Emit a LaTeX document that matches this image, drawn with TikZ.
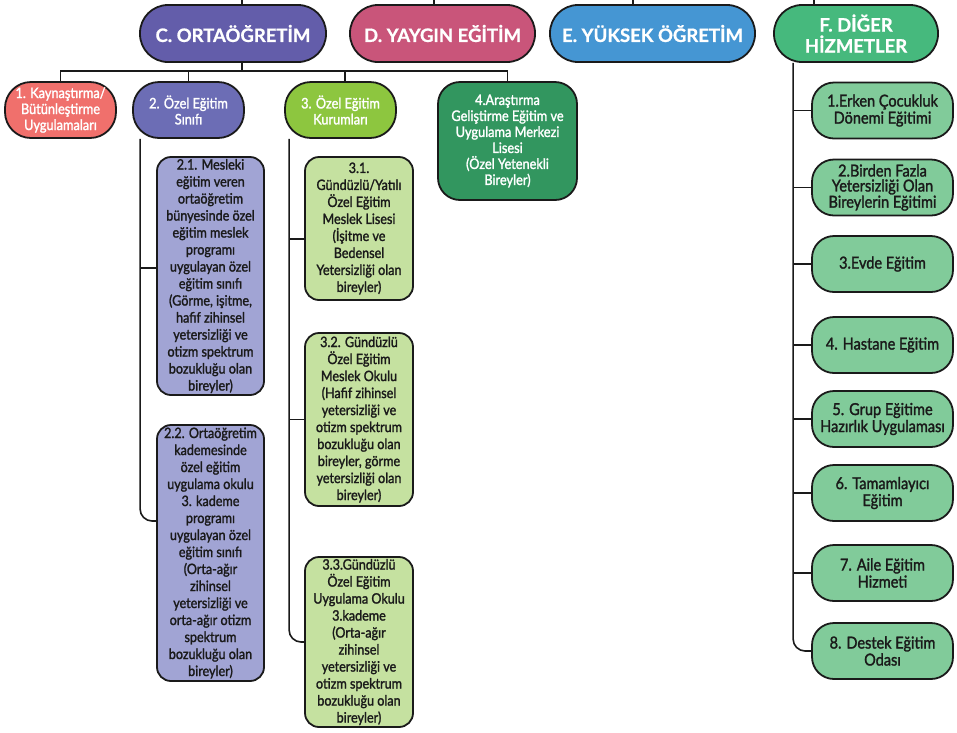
\documentclass[tikz,border=0pt]{standalone}
\usepackage{fontspec}
\setmainfont{Lato}
\newfontfamily\headf[BoldFeatures={FakeBold=0.8}]{Lato}
\newfontfamily\bodyf[FakeStretch=0.88,FakeBold=1.6]{Lato}
\definecolor{lc}{HTML}{1A1A1A}
\definecolor{cC}{HTML}{635DAA}
\definecolor{cD}{HTML}{C9557A}
\definecolor{cE}{HTML}{4596D3}
\definecolor{cF}{HTML}{46B97D}
\definecolor{cOne}{HTML}{F0706C}
\definecolor{cTwo}{HTML}{6C6DB5}
\definecolor{cThree}{HTML}{8DC63F}
\definecolor{cFour}{HTML}{32965F}
\definecolor{cTwoL}{HTML}{A1A4D4}
\definecolor{cThreeL}{HTML}{C5E1A0}
\definecolor{cR}{HTML}{81CB9A}
\tikzset{
  box/.style={draw=lc, line width=1.8pt, rounded corners=14pt, align=center, inner sep=0pt},
  pill/.style={box, rounded corners=28pt, minimum height=57pt, text=white,
    font=\headf\bfseries\fontsize{18.5}{21}\selectfont},
  midbox/.style={box, rounded corners=26pt, minimum width=111pt, minimum height=56pt, text=white,
    font=\bodyf\fontsize{14.5}{16}\selectfont},
  subbox/.style={box, minimum width=107pt, text=lc,
    font=\bodyf\fontsize{14.3}{17}\selectfont},
  rbox/.style={box, rounded corners=22pt, fill=cR, minimum width=141pt, minimum height=56pt, text=lc,
    font=\bodyf\fontsize{16.5}{17}\selectfont},
  conn/.style={draw=lc, line width=1.6pt}
}
\begin{document}
\begin{tikzpicture}[x=1pt,y=-1pt]
\useasboundingbox (0,0) rectangle (957,732);
% top level
\node[pill, fill=cC, minimum width=186pt] (C) at (233,33.5) {C. ORTAÖĞRETİM};
\node[pill, fill=cD, minimum width=185pt] (D) at (442.5,33.5) {D. YAYGIN EĞİTİM};
\node[pill, fill=cE, minimum width=205pt] (E) at (652.5,33.5) {E. YÜKSEK ÖĞRETİM};
\node[pill, fill=cF, minimum width=164pt] (F) at (856,33.5) {F. DİĞER\\HİZMETLER};
\coordinate (tC) at (242,0);
\coordinate (tD) at (434,0);
\coordinate (tE) at (633,0);
\coordinate (tF) at (814,0);
\draw[conn] (tC) -- (tC |- C.north);
\draw[conn] (tD) -- (tD |- D.north);
\draw[conn] (tE) -- (tE |- E.north);
\draw[conn] (tF) -- (tF |- F.north);
% second level
\node[midbox, fill=cOne] (b1) at (60.5,110) {1. Kaynaştırma/\\Bütünleştirme\\Uygulamaları};
\node[midbox, fill=cTwo] (b2) at (188.5,110) {2. Özel Eğitim\\Sınıfı};
\node[midbox, fill=cThree] (b3) at (340.5,110) {3. Özel Eğitim\\Kurumları};
\node[midbox, fill=cFour, rounded corners=22pt, minimum width=139pt, minimum height=118pt] (b4) at (507.5,141)
  {4.Araştırma\\Geliştirme Eğitim ve\\Uygulama Merkezi\\Lisesi\\(Özel Yetenekli\\Bireyler)};
\coordinate (bar) at (242,72);
\draw[conn] (tC |- C.south) -- (bar);
\draw[conn] (b1.north) -- ++(0,-10) -| (b4.north);
\draw[conn] (b2.north) -- ++(0,-10);
\draw[conn] ([xshift=4.5pt]b3.north) -- ++(0,-10);
% 2.x boxes
\node[subbox, fill=cTwoL, minimum height=238pt] (b21) at (210.5,276)
  {2.1. Mesleki\\eğitim veren\\ortaöğretim\\bünyesinde özel\\eğitim meslek\\programı\\uygulayan özel\\eğitim sınıfı\\(Görme, işitme,\\hafif zihinsel\\yetersizliği ve\\otizm spektrum\\bozukluğu olan\\bireyler)};
\node[subbox, fill=cTwoL, minimum height=256pt] (b22) at (210.5,553)
  {2.2. Ortaöğretim\\kademesinde\\özel eğitim\\uygulama okulu\\3. kademe\\programı\\uygulayan özel\\eğitim sınıfı\\(Orta-ağır\\zihinsel\\yetersizliği ve\\orta-ağır otizm\\spektrum\\bozukluğu olan\\bireyler)};
\draw[conn, rounded corners=12pt] ([xshift=8pt]b2.south west) |- ([yshift=32pt]b22.west);
\draw[conn] ([yshift=8pt]b21.west) -- ++(-16,0);
% 3.x boxes
\node[subbox, fill=cThreeL, minimum width=108pt, minimum height=143pt] (b31) at (359,228.5)
  {3.1.\\Gündüzlü/Yatılı\\Özel Eğitim\\Meslek Lisesi\\(İşitme ve\\Bedensel\\Yetersizliği olan\\bireyler)};
\node[subbox, fill=cThreeL, minimum width=108pt, minimum height=173pt] (b32) at (359,419.5)
  {3.2. Gündüzlü\\Özel Eğitim\\Meslek Okulu\\(Hafif zihinsel\\yetersizliği ve\\otizm spektrum\\bozukluğu olan\\bireyler, görme\\yetersizliği olan\\bireyler)};
\node[subbox, fill=cThreeL, minimum width=108pt, minimum height=170pt] (b33) at (359,642)
  {3.3.Gündüzlü\\Özel Eğitim\\Uygulama Okulu\\3.kademe\\(Orta-ağır\\zihinsel\\yetersizliği ve\\otizm spektrum\\bozukluğu olan\\bireyler)};
\draw[conn, rounded corners=12pt] ([xshift=5pt]b3.south west) |- (b33.west);
\draw[conn] ([yshift=-10.5pt]b31.west) -- ++(-15,0);
\draw[conn] (b32.west) -- ++(-15,0);
% right column
\node[rbox] (r1) at (882.5,110.5) {1.Erken Çocukluk\\Dönemi Eğitimi};
\node[rbox, font=\bodyf\fontsize{16.5}{15}\selectfont] (r2) at (882.5,187.5) {2.Birden Fazla\\Yetersizliği Olan\\Bireylerin Eğitimi};
\node[rbox] (r3) at (882.5,264) {3.Evde Eğitim};
\node[rbox] (r4) at (882.5,345) {4. Hastane Eğitim};
\node[rbox] (r5) at (882.5,419) {5. Grup Eğitime\\Hazırlık Uygulaması};
\node[rbox] (r6) at (882.5,493) {6. Tamamlayıcı\\Eğitim};
\node[rbox] (r7) at (882.5,573) {7. Aile Eğitim\\Hizmeti};
\node[rbox] (r8) at (882.5,651) {8. Destek Eğitim\\Odası};
\draw[conn, rounded corners=12pt] ([xshift=20pt]F.south west) |- (r8.west);
\foreach \r in {r1,r2,r3,r4,r5,r6,r7} { \draw[conn] (\r.west) -- ++(-18,0); }
\end{tikzpicture}
\end{document}
